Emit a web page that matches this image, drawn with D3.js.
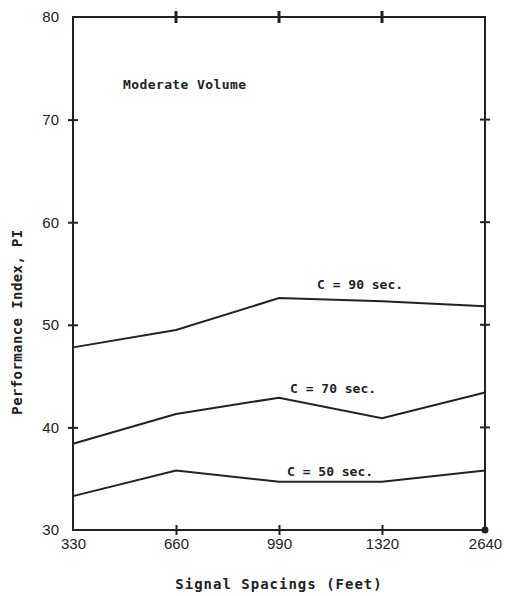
<!DOCTYPE html>
<html>
  <head>
    <meta charset="utf-8">
    <title>Performance Index vs Signal Spacing</title>
    <script type="text/javascript" src="https://cdn.jsdelivr.net/npm/d3@7"></script>
    <style>
      body { margin: 0; background: #fff; }
      .tick text { font-family: "Liberation Sans", Arial, sans-serif; font-size: 15px; fill: #222; }
      .mono { font-family: "DejaVu Sans Mono", monospace; font-weight: bold; fill: #222; }
    </style>
  </head>
  <body>
<script type="text/javascript">
var spacings = ["330", "660", "990", "1320", "2640"];
var yTicks = [30, 40, 50, 60, 70, 80];
var pi90 = [47.8, 49.5, 52.6, 52.3, 51.8];
var pi70 = [38.4, 41.3, 42.9, 40.9, 43.4];
var pi50 = [33.3, 35.8, 34.7, 34.7, 35.8];
var seriesNames = ["C = 90 sec.", "C = 70 sec.", "C = 50 sec."];

var w = 505, h = 596;
var plotL = 73, plotR = 485, plotT = 17, plotB = 530;

var svg = d3.select("body").append("svg")
    .attr("width", w)
    .attr("height", h);

var x = d3.scalePoint().domain(spacings).range([plotL, plotR]);
var y = d3.scaleLinear().domain([30, 80]).range([plotB, plotT]);

// frame
svg.append("rect")
   .attr("x", plotL).attr("y", plotT)
   .attr("width", plotR - plotL).attr("height", plotB - plotT)
   .attr("fill", "none").attr("stroke", "#222").attr("stroke-width", 2);

var inner = spacings.slice(1, 4);
var innerY = [40, 50, 60, 70];

// bottom axis
var gx = svg.append("g")
   .attr("transform", "translate(0," + plotB + ")")
   .call(d3.axisBottom(x).tickSize(0).tickPadding(8));
gx.select(".domain").remove();
gx.selectAll(".tick line").remove();
gx.selectAll(".tick").filter(function(d){ return inner.indexOf(d) >= 0; })
  .append("line").attr("y1", -5).attr("y2", 5).attr("stroke", "#222").attr("stroke-width", 2);

// top ticks
svg.append("g").attr("transform", "translate(0," + plotT + ")")
   .selectAll("line").data(inner).enter().append("line")
   .attr("x1", function(d){ return x(d); }).attr("x2", function(d){ return x(d); })
   .attr("y1", -6).attr("y2", 6).attr("stroke", "#222").attr("stroke-width", 3);

// left axis
var gy = svg.append("g")
   .attr("transform", "translate(" + plotL + ",0)")
   .call(d3.axisLeft(y).tickValues(yTicks).tickSize(0).tickPadding(14));
gy.select(".domain").remove();
gy.selectAll(".tick").filter(function(d){ return innerY.indexOf(d) >= 0; })
  .append("line").attr("x1", -5).attr("x2", 5).attr("stroke", "#222").attr("stroke-width", 2);

// right ticks
svg.append("g").attr("transform", "translate(" + plotR + ",0)")
   .selectAll("line").data(innerY).enter().append("line")
   .attr("y1", function(d){ return y(d); }).attr("y2", function(d){ return y(d); })
   .attr("x1", -5).attr("x2", 5).attr("stroke", "#222").attr("stroke-width", 2);

svg.append("circle").attr("cx", plotR).attr("cy", plotB).attr("r", 3.5)
   .attr("fill", "#222");

// lines
var line = d3.line()
   .x(function(d, i){ return x(spacings[i]); })
   .y(function(d){ return y(d); });

[pi90, pi70, pi50].forEach(function(s){
  svg.append("path").datum(s)
     .attr("d", line)
     .attr("fill", "none").attr("stroke", "#222").attr("stroke-width", 2);
});

// series labels
var labelPos = [[317, 289], [290, 393], [287, 476]];
labelPos.forEach(function(p, i){
  svg.append("text").attr("class", "mono")
     .attr("x", p[0]).attr("y", p[1])
     .style("font-size", "13px")
     .text(seriesNames[i]);
});

svg.append("text").attr("class", "mono")
   .attr("x", 123).attr("y", 89)
   .style("font-size", "13px").style("letter-spacing", "0.4px")
   .text("Moderate Volume");

svg.append("text").attr("class", "mono")
   .attr("x", 279).attr("y", 589)
   .attr("text-anchor", "middle")
   .style("font-size", "14px").style("letter-spacing", "1px")
   .text("Signal Spacings (Feet)");

svg.append("text").attr("class", "mono")
   .attr("transform", "translate(22,322) rotate(-90)")
   .attr("text-anchor", "middle")
   .style("font-size", "14px").style("letter-spacing", "0.4px")
   .text("Performance Index, PI");
</script>
  </body>
</html>
